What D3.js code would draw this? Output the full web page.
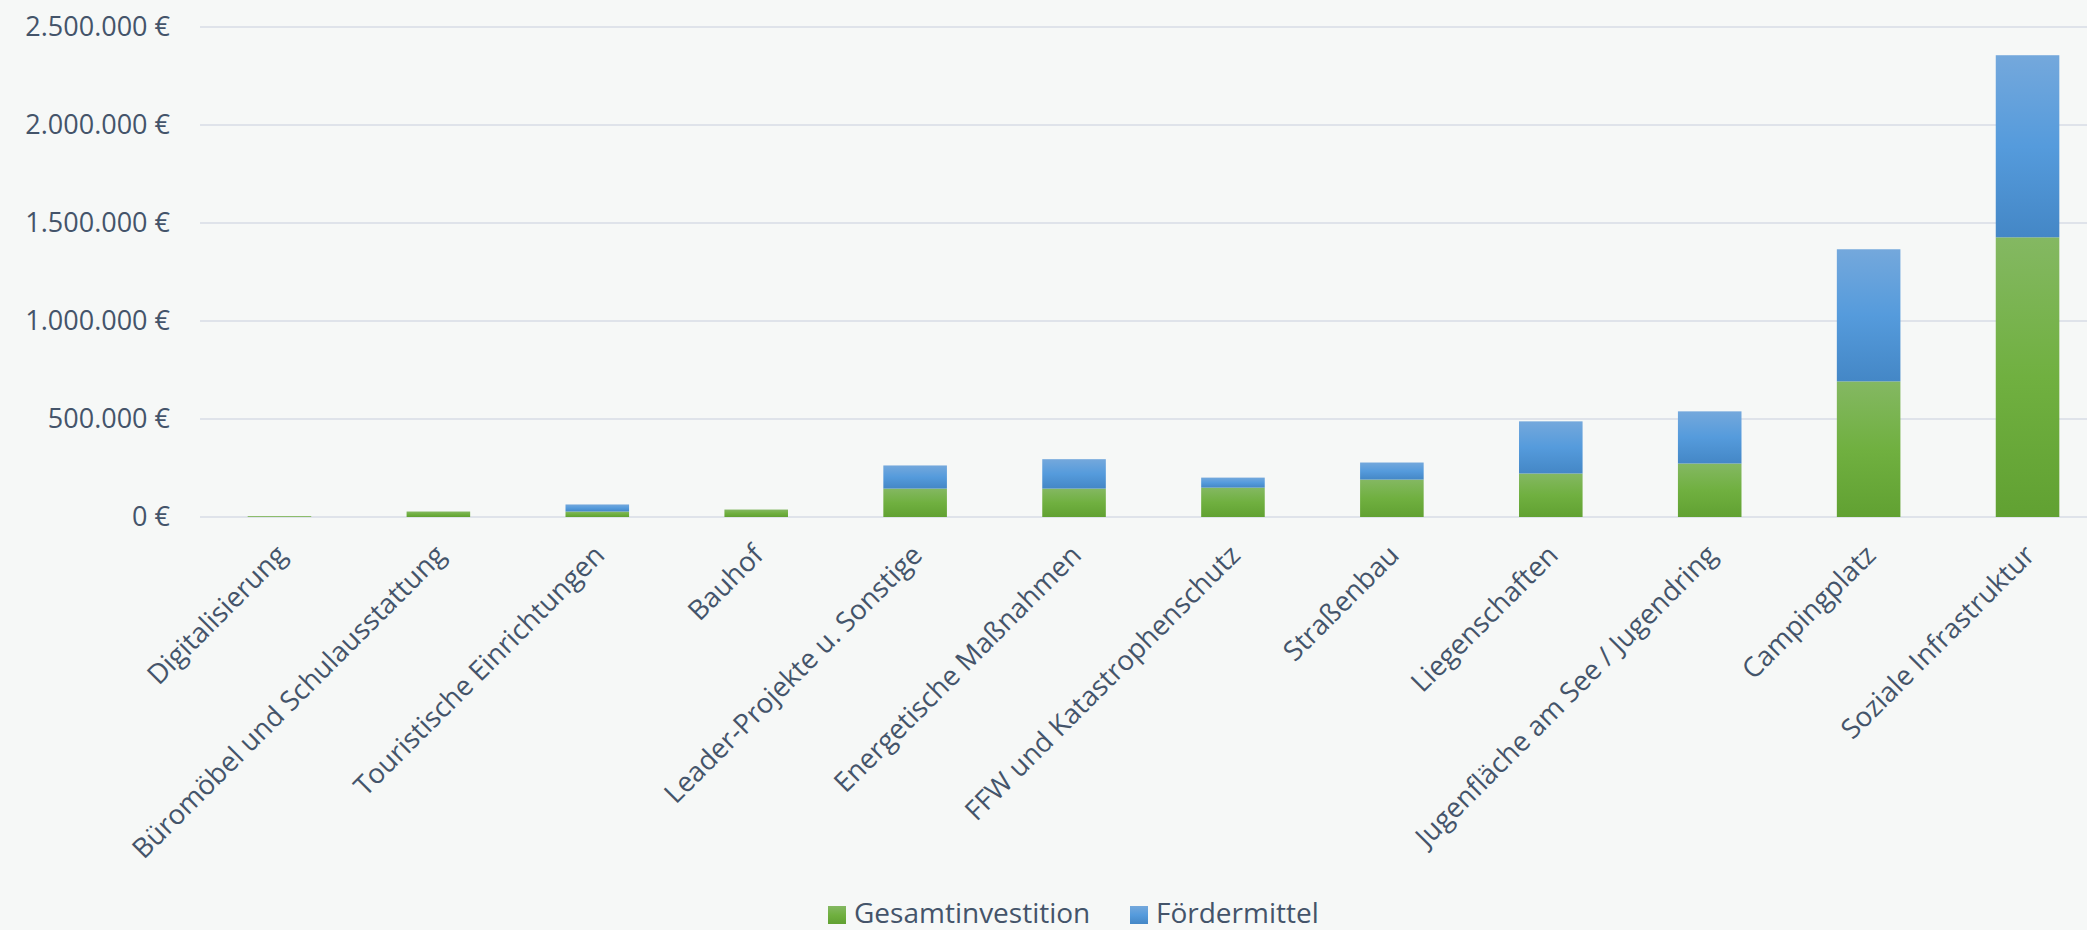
<!DOCTYPE html>
<html>
<head>
<meta charset="utf-8">
<script src="https://cdn.jsdelivr.net/npm/d3@7"></script>
<style>
  body { margin: 0; background: #f6f8f7; }
  text { font-family: "Open Sans", sans-serif; fill: #44546a; }
</style>
</head>
<body>
<div id="chart"></div>
<script>
const categories = ["Digitalisierung", "Büromöbel und Schulausstattung", "Touristische Einrichtungen",
  "Bauhof", "Leader-Projekte u. Sonstige", "Energetische Maßnahmen", "FFW und Katastrophenschutz",
  "Straßenbau", "Liegenschaften", "Jugenfläche am See / Jugendring", "Campingplatz", "Soziale Infrastruktur"];
const gesamt = [4000, 28000, 28000, 38000, 145000, 145000, 150000, 191000, 222000, 273000, 692000, 1427000];
const foerder = [0, 0, 36000, 0, 118000, 150000, 51000, 87000, 266000, 266000, 674000, 929000];
const yTicks = [0, 500000, 1000000, 1500000, 2000000, 2500000];
const seriesNames = ["Gesamtinvestition", "Fördermittel"];

const width = 2087, height = 930;
const margin = {left: 200, right: -20, top: 27, bottom: 413};

const svg = d3.select("#chart").append("svg")
  .attr("width", width).attr("height", height);

const defs = svg.append("defs");
const gradG = defs.append("linearGradient").attr("id", "gG").attr("x1", 0).attr("y1", 0).attr("x2", 0).attr("y2", 1);
gradG.append("stop").attr("offset", "0%").attr("stop-color", "#84b862");
gradG.append("stop").attr("offset", "50%").attr("stop-color", "#70b040");
gradG.append("stop").attr("offset", "100%").attr("stop-color", "#61a132");
const gradB = defs.append("linearGradient").attr("id", "gB").attr("x1", 0).attr("y1", 0).attr("x2", 0).attr("y2", 1);
gradB.append("stop").attr("offset", "0%").attr("stop-color", "#74a8dc");
gradB.append("stop").attr("offset", "50%").attr("stop-color", "#559bdc");
gradB.append("stop").attr("offset", "100%").attr("stop-color", "#4487c6");

const x = d3.scaleBand()
  .domain(categories)
  .range([margin.left, width - margin.right])
  .paddingInner(0.6).paddingOuter(0.3);

const y = d3.scaleLinear()
  .domain([0, 2500000])
  .range([height - margin.bottom, margin.top]);

const fmt = d => d3.format(",")(d).replace(/,/g, ".") + " €";

// gridlines
svg.append("g")
  .selectAll("line")
  .data(yTicks)
  .join("line")
  .attr("x1", margin.left).attr("x2", width)
  .attr("y1", d => y(d)).attr("y2", d => y(d))
  .attr("stroke", "#dfe3ea").attr("stroke-width", 2);

// y axis labels
svg.append("g")
  .selectAll("text")
  .data(yTicks)
  .join("text")
  .attr("x", 170).attr("y", d => y(d))
  .attr("dy", "0.35em")
  .attr("text-anchor", "end")
  .attr("font-size", 27)
  .text(fmt);

const data = categories.map((c, i) => ({cat: c, g: gesamt[i], f: foerder[i]}));

const bars = svg.append("g");
bars.selectAll("rect.g")
  .data(data)
  .join("rect")
  .attr("class", "g")
  .attr("x", d => x(d.cat)).attr("width", x.bandwidth())
  .attr("y", d => y(d.g)).attr("height", d => y(0) - y(d.g))
  .attr("fill", "url(#gG)");
bars.selectAll("rect.f")
  .data(data.filter(d => d.f > 0))
  .join("rect")
  .attr("class", "f")
  .attr("x", d => x(d.cat)).attr("width", x.bandwidth())
  .attr("y", d => y(d.g + d.f)).attr("height", d => y(d.g) - y(d.g + d.f))
  .attr("fill", "url(#gB)");

// x labels
svg.append("g")
  .selectAll("text")
  .data(categories)
  .join("text")
  .attr("transform", d => `translate(${x(d) + x.bandwidth() / 2 + 2},${y(0) + 33}) rotate(-45)`)
  .attr("text-anchor", "end")
  .attr("dy", "0.35em")
  .attr("font-size", 27.5)
  .text(d => d);

// legend
const legend = svg.append("g");
const legendX = [828, 1130];
const legendFill = ["url(#gG)", "url(#gB)"];
seriesNames.forEach((n, i) => {
  legend.append("rect")
    .attr("x", legendX[i]).attr("y", 906).attr("width", 18).attr("height", 18)
    .attr("fill", legendFill[i]);
  legend.append("text")
    .attr("x", legendX[i] + 26).attr("y", 923)
    .attr("font-size", 28)
    .text(n);
});
</script>
</body>
</html>
